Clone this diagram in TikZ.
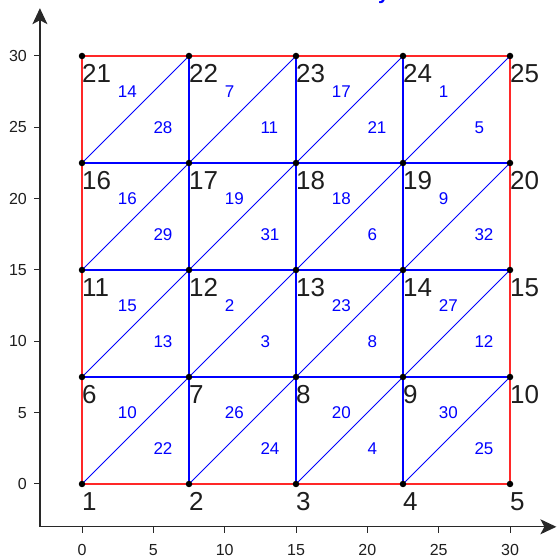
\documentclass[tikz,border=0pt]{standalone}
\usepackage{fontspec}
\setmainfont{Liberation Sans}
\usetikzlibrary{arrows.meta,calc}
\definecolor{axisgray}{RGB}{40,40,40}
\definecolor{lblgray}{RGB}{30,30,30}
\definecolor{bndred}{RGB}{255,40,40}
\begin{document}
\begin{tikzpicture}[x=14.2667pt,y=14.2667pt,
  dot/.style={circle,fill=black,inner sep=0pt,minimum size=6.5pt},
  nlabel/.style={anchor=base west,inner sep=0pt,font=\fontsize{26}{26}\selectfont,text=lblgray},
  elabel/.style={anchor=west,inner sep=0pt,font=\fontsize{17}{17}\selectfont,text=blue},
  mesh/.style={blue,line width=1.1pt},
  diag/.style={blue,line width=0.8pt},
  bnd/.style={bndred,line width=1.2pt},
  axisline/.style={axisgray,line width=1.2pt,-{Stealth[length=16pt,width=15pt,inset=4pt]}},
  tickmark/.style={axisgray,line width=1pt},
  ticklbl/.style={font=\fontsize{16}{16}\selectfont,text=lblgray,inner sep=0pt}]
\useasboundingbox (-5.748,-5.257) rectangle (33.365,33.925);
% vertices
\foreach \j in {0,...,4}{
  \foreach \i in {0,...,4}{
    \pgfmathtruncatemacro{\n}{5*\j+\i+1}
    \coordinate (p\n) at ({7.5*\i},{7.5*\j});
  }
}
% interior horizontal and vertical lines
\foreach \j in {1,2,3}{
  \pgfmathtruncatemacro{\a}{5*\j+1}
  \pgfmathtruncatemacro{\b}{5*\j+5}
  \draw[mesh] (p\a) -- (p\b);
}
\foreach \i in {1,2,3}{
  \pgfmathtruncatemacro{\a}{\i+1}
  \pgfmathtruncatemacro{\b}{\i+21}
  \draw[mesh] (p\a) -- (p\b);
}
% diagonals
\foreach \j in {0,...,3}{
  \foreach \i in {0,...,3}{
    \pgfmathtruncatemacro{\a}{5*\j+\i+1}
    \pgfmathtruncatemacro{\b}{5*(\j+1)+\i+2}
    \draw[diag] (p\a) -- (p\b);
  }
}
% boundary
\draw[bnd] (p1) -- (p5) -- (p25) -- (p21) -- cycle;
% dots and node labels
\foreach \n in {1,...,25}{
  \node[dot] (d\n) at (p\n) {};
  \node[nlabel] (l\n) at ($(p\n)+(0pt,-26.7pt)$) {\n};
}
% element labels: cell i,j -> upper, lower
\foreach \i/\j/\u/\l in {0/0/10/22,1/0/26/24,2/0/20/4,3/0/30/25,
                         0/1/15/13,1/1/2/3,2/1/23/8,3/1/27/12,
                         0/2/16/29,1/2/19/31,2/2/18/6,3/2/9/32,
                         0/3/14/28,1/3/7/11,2/3/17/21,3/3/1/5}{
  \node[elabel] (e\u) at ({7.5*\i+2.5},{7.5*\j+5}) {\u};
  \node[elabel] (e\l) at ({7.5*\i+5},{7.5*\j+2.5}) {\l};
}
% axes
\coordinate (o) at (-2.95,-3.0);
\coordinate (xe) at (33.25,-3.0);
\coordinate (ye) at (-2.95,33.35);
\draw[axisline] (o) -- (xe);
\draw[axisline] (o) -- (ye);
\foreach \v in {0,5,...,30}{
  \coordinate (tx\v) at (\v,-3.0);
  \coordinate (ty\v) at (-2.95,\v);
  \draw[tickmark] (tx\v) -- ++(0,-6pt);
  \draw[tickmark] (ty\v) -- ++(-6pt,0);
  \node[ticklbl,anchor=center] (xl\v) at (\v,-4.6) {\v};
  \node[ticklbl,anchor=east] (yl\v) at (-3.85,\v) {\v};
}
% clipped title fragment
\node[anchor=base west,inner sep=0pt,text=blue,font=\bfseries\fontsize{20}{20}\selectfont] (title) at (20.75,33.925) {y};
\end{tikzpicture}
\end{document}
